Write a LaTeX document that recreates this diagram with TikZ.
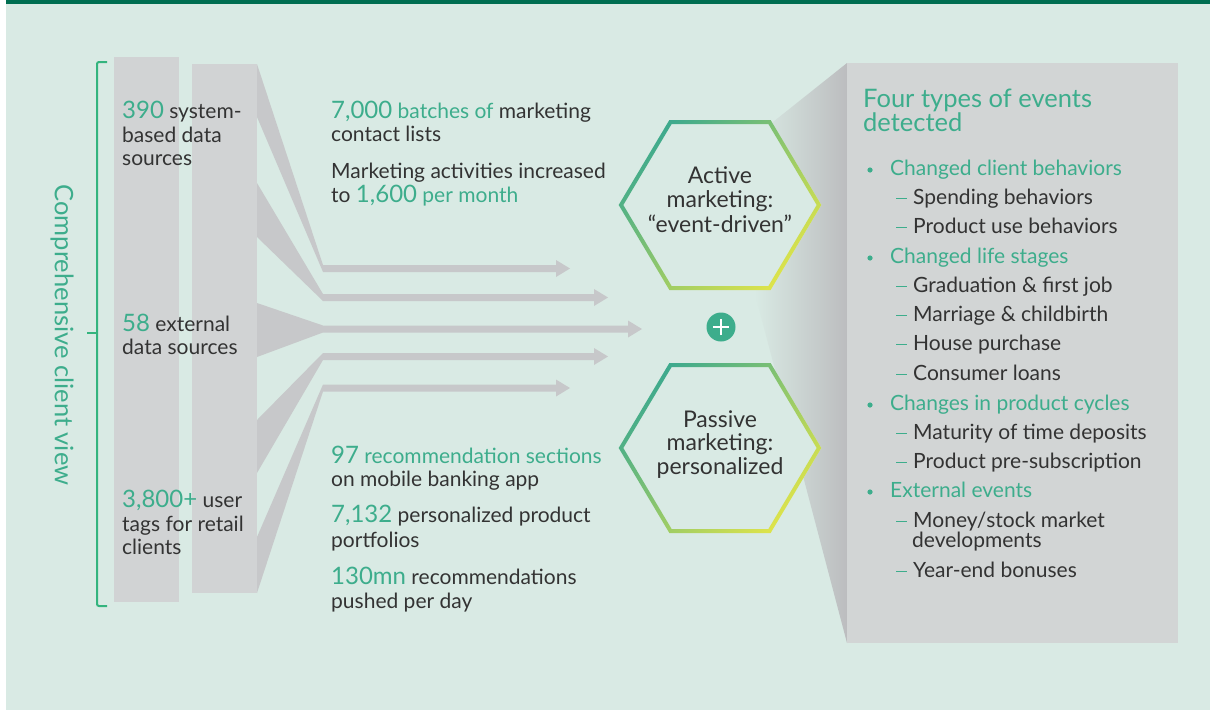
\documentclass[tikz,border=0pt]{standalone}
\usepackage{fontspec}
\setmainfont{Lato}
\definecolor{bg}{HTML}{D9EAE4}
\definecolor{topbar}{HTML}{006E51}
\definecolor{colgray}{HTML}{D1D3D4}
\definecolor{flowgray}{HTML}{C7C8CA}
\definecolor{panelgray}{HTML}{D2D5D5}
\definecolor{shadowgray}{HTML}{BCBDBF}
\definecolor{grn}{HTML}{3DAD8C}
\definecolor{brk}{HTML}{34B47E}
\definecolor{dark}{HTML}{333333}
\definecolor{hexA}{HTML}{3FAA8D}
\definecolor{hexB}{HTML}{DCE34B}
\newcommand\bignum[1]{{\color{grn}\fontsize{24}{25}\selectfont #1}}
\newcommand\grntxt[1]{{\color{grn}#1}}
\newcommand\flowarrow[4]{% wedge top, wedge bottom, shaft centre, tip
  \fill[flowgray] (257,#1) -- (323,{#3-3.5}) -- ({#4-14},{#3-3.5}) -- ({#4-14},{#3-8.5})
    -- (#4,#3) -- ({#4-14},{#3+8.5}) -- ({#4-14},{#3+3.5}) -- (323,{#3+3.5}) -- (257,#2) -- cycle;}
\newcommand\hexouter[2]{({#1-101.33},#2) -- ({#1-50.64},{#2-85}) -- ({#1+50.64},{#2-85})
    -- ({#1+101.33},#2) -- ({#1+50.64},{#2+85}) -- ({#1-50.64},{#2+85}) -- cycle}
\newcommand\hexinner[2]{({#1-96.67},#2) -- ({#1-48.36},{#2-81}) -- ({#1+48.36},{#2-81})
    -- ({#1+96.67},#2) -- ({#1+48.36},{#2+81}) -- ({#1-48.36},{#2+81}) -- cycle}
\tikzset{
  body/.style={anchor=base west, inner sep=0pt, text=dark, font=\fontsize{21}{25}\selectfont},
  gbody/.style={body, text=grn},
  hextxt/.style={anchor=base, inner sep=0pt, text=dark, font=\fontsize{23}{27}\selectfont},
  titletxt/.style={anchor=base west, inner sep=0pt, text=grn, font=\fontsize{25.5}{26}\selectfont},
}
\begin{document}
\begin{tikzpicture}[x=1pt,y=-1pt]
\useasboundingbox (0,0) rectangle (1210,710);
\fill[white] (0,0) rectangle (1210,710);
\fill[bg] (6,0) rectangle (1210,710);
\fill[topbar] (6,0) rectangle (1210,4);

% bracket and vertical label
\draw[brk, line width=2pt, rounded corners=2pt] (107,62) -- (97,62) -- (97,606) -- (107,606);
\draw[brk, line width=2pt] (87,333) -- (97,333);
\node[rotate=-90, inner sep=0pt, text=grn, font=\fontsize{25.5}{26}\selectfont] (cview) at (62,335) {Comprehensive client view};

% columns
\fill[colgray] (114,57) rectangle (179,602);
\fill[colgray] (192,64) rectangle (257,593);

% flows
\flowarrow{64}{117}{268.5}{570}
\flowarrow{183}{237}{297.5}{608}
\flowarrow{303}{357}{329}{642}
\flowarrow{420}{473}{356.5}{608}
\flowarrow{537}{593}{388}{570}

% shadow and panel
\shade[left color=bg, right color=shadowgray] (773,122) -- (847,63) -- (847,643) -- (754,290) -- cycle;
\fill[panelgray] (847,63) rectangle (1178,643);

% hexagons
\fill[bg] \hexouter{720}{205};
\shade[even odd rule, top color=hexA, bottom color=hexB, shading angle=45] \hexouter{720}{205} \hexinner{720}{205};
\fill[bg] \hexouter{720}{448};
\shade[even odd rule, top color=hexA, bottom color=hexB, shading angle=45] \hexouter{720}{448} \hexinner{720}{448};

\node[hextxt] (act1) at (720,183) {Active};
\node[hextxt] (act2) at (720,207) {marketing:};
\node[hextxt] (act3) at (720,232) {“event-driven”};
\node[hextxt] (pas1) at (720,427) {Passive};
\node[hextxt] (pas2) at (720,450) {marketing:};
\node[hextxt] (pas3) at (720,474) {personalized};

% plus
\node[circle, fill=grn, minimum size=29pt, inner sep=0pt] (plus) at (721,327) {};
\draw[white, line width=1.8pt] ([xshift=-8pt]plus.center) -- ([xshift=8pt]plus.center);
\draw[white, line width=1.8pt] ([yshift=-8pt]plus.center) -- ([yshift=8pt]plus.center);

% left texts
\node[body] (l1a) at (122,118) {\bignum{390} system-};
\node[body] (l1b) at (122,142) {based data};
\node[body] (l1c) at (122,165) {sources};
\node[body] (l2a) at (122,331) {\bignum{58} external};
\node[body] (l2b) at (122,354) {data sources};
\node[body] (l3a) at (122,507) {\bignum{3,800+} user};
\node[body] (l3b) at (122,531) {tags for retail};
\node[body] (l3c) at (122,554) {clients};

% middle texts
\node[body] (m1a) at (331,118) {\bignum{7,000} \grntxt{batches of} marketing};
\node[body] (m1b) at (331,141) {contact lists};
\node[body] (m2a) at (331,178) {Marketing activities increased};
\node[body] (m2b) at (331,202) {to \bignum{1,600} \grntxt{per month}};
\node[body] (m3a) at (331,463) {\bignum{97} \grntxt{recommendation sections}};
\node[body] (m3b) at (331,486) {on mobile banking app};
\node[body] (m4a) at (331,522) {\bignum{7,132} personalized product};
\node[body] (m4b) at (331,547) {portfolios};
\node[body] (m5a) at (331,584) {\bignum{130mn} recommendations};
\node[body] (m5b) at (331,608) {pushed per day};

% panel texts
\node[titletxt] (t1) at (863,107) {Four types of events};
\node[titletxt] (t2) at (863,131) {detected};

\foreach \b/\t [count=\i] in {175/Changed client behaviors, 263/Changed life stages, 410/Changes in product cycles, 497/External events}{
  \fill[grn] (870,\b-5) circle (2.6pt);
  \node[gbody] (cat\i) at (890,\b) {\t};
}
\foreach \b/\t [count=\i] in {204/Spending behaviors, 233/Product use behaviors, 292/Graduation \& first job, 321/Marriage \& childbirth, 350/House purchase, 380/Consumer loans, 439/Maturity of time deposits, 468/Product pre-subscription, 527/Money\slash stock market, 577/Year-end bonuses}{
  \draw[grn, line width=1pt] (896,\b-6) -- (907,\b-6);
  \node[body] (sub\i) at (913,\b) {\t};
}
\node[body] (sub9b) at (912,547) {developments};
\end{tikzpicture}
\end{document}
